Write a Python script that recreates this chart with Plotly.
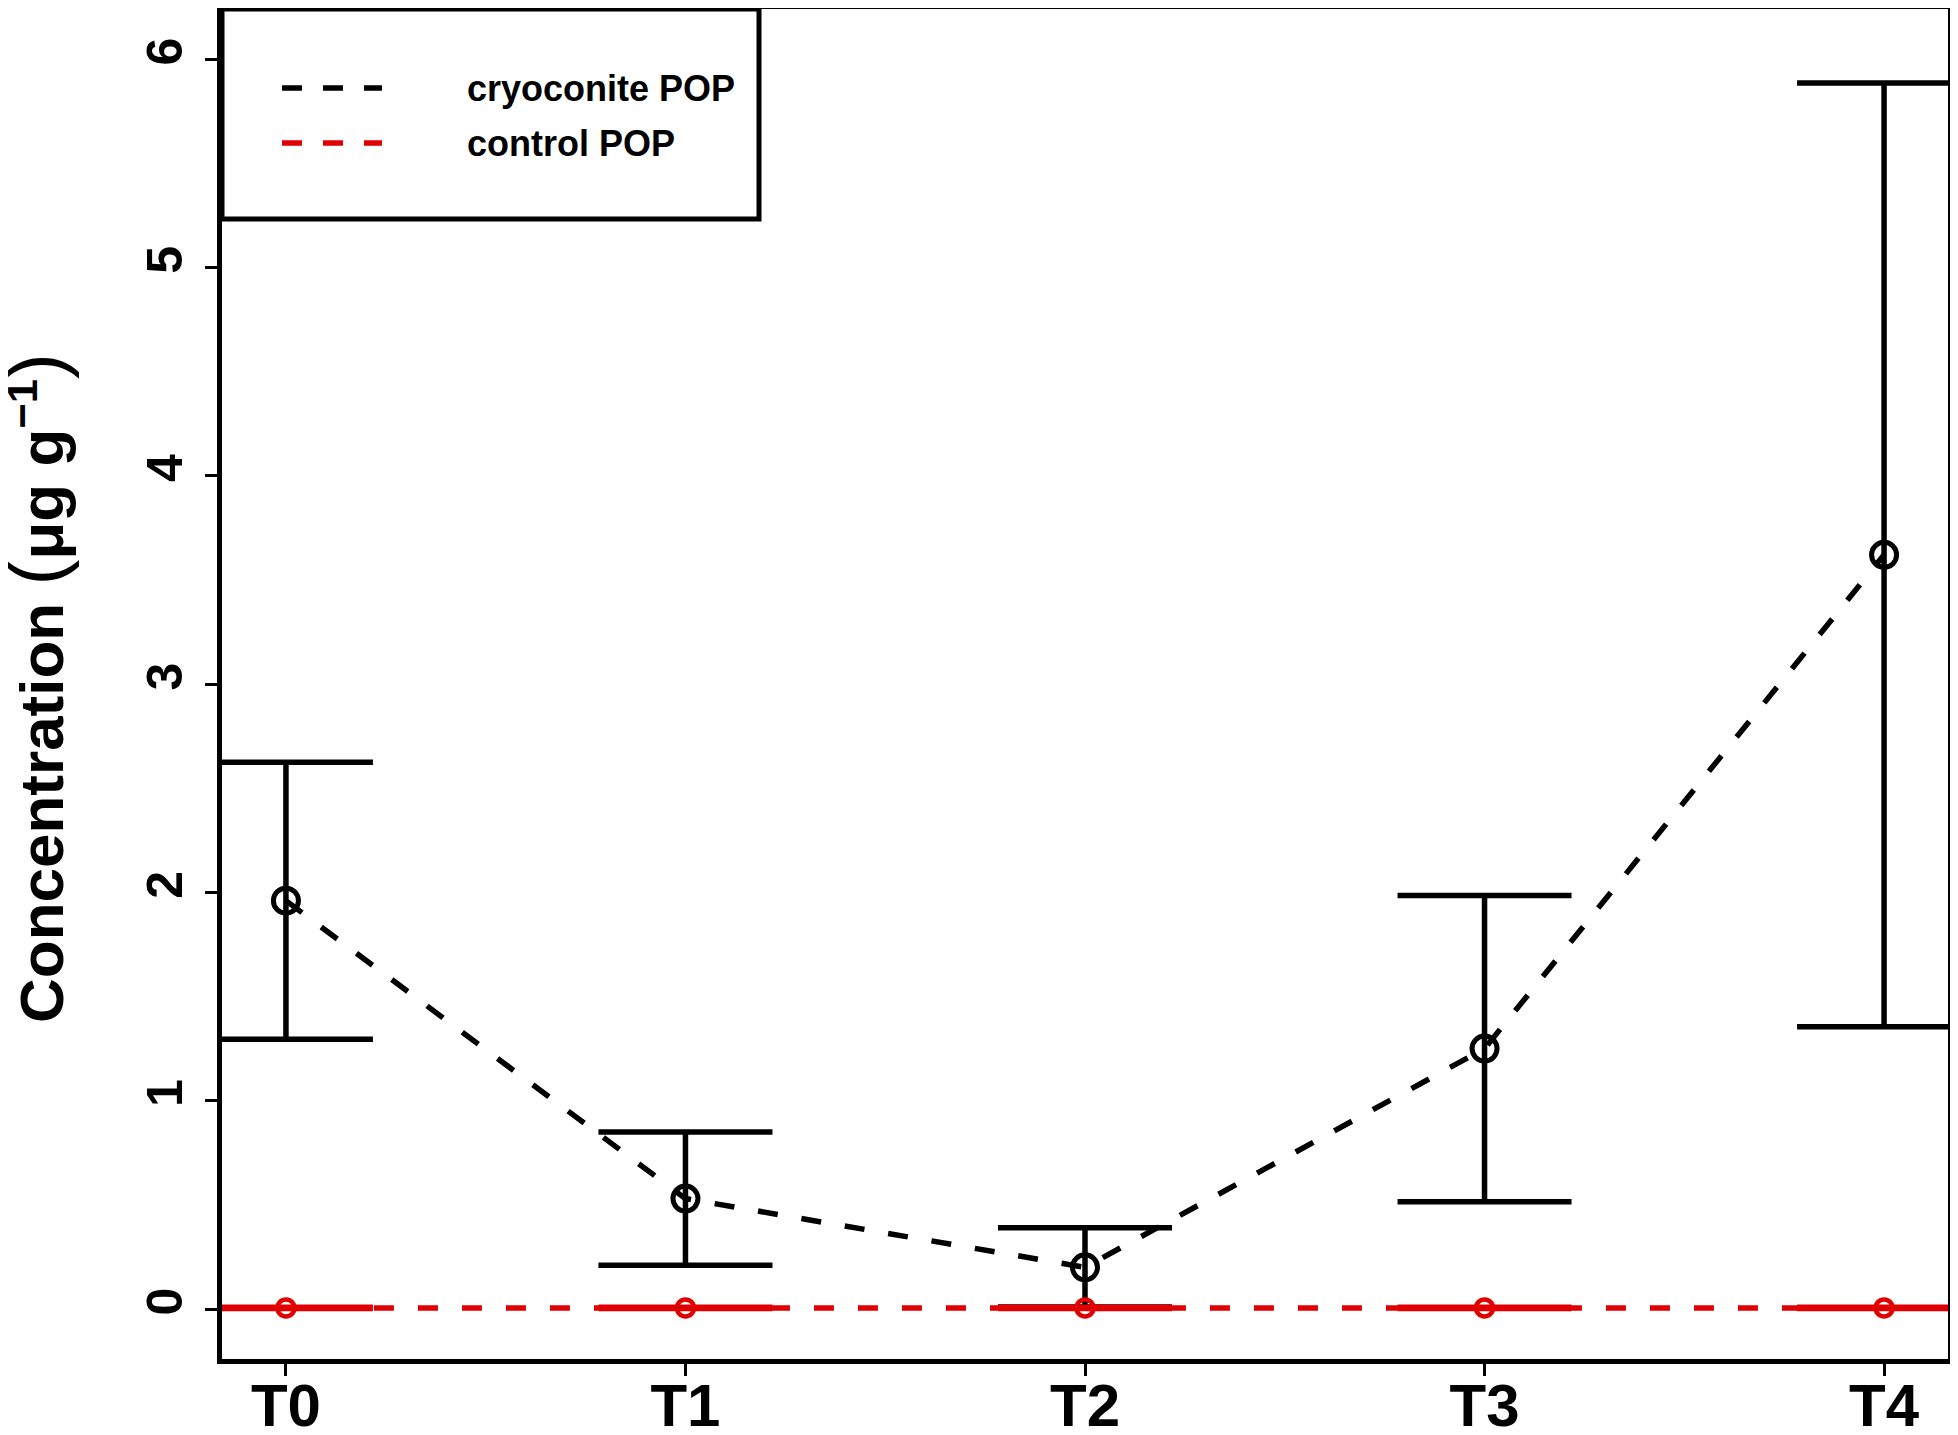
import plotly.graph_objects as go

# sampling times and measured concentrations (ug/g)
times = ["T0", "T1", "T2", "T3", "T4"]
cryo_mean = [1.96, 0.53, 0.20, 1.25, 3.62]
cryo_sd = [0.665, 0.32, 0.19, 0.735, 2.265]
ctrl_mean = [0.005, 0.005, 0.005, 0.005, 0.005]
ctrl_sd = [0.003, 0.003, 0.003, 0.003, 0.003]
yticks = [0, 1, 2, 3, 4, 5, 6]

legend_names = ["cryoconite POP", "control POP"]
RED = "#e00000"
FONT = "Liberation Sans"

# page body has an 8px margin, so shrink the figure by that much
W, H = 1950, 1427
L, R, T, B = 214, 10, 1, 76
pw, ph = W - L - R, H - T - B


def px(x):
    # x in reference-image pixels -> paper coords
    return (x - 8 - L) / pw


def py(y):
    return (H - B - (y - 8)) / ph


fig = go.Figure()

fig.add_trace(go.Scatter(
    x=times, y=cryo_mean, mode="lines+markers", name=legend_names[0],
    line=dict(color="black", width=5.5, dash="20px,24px"),
    marker=dict(symbol="circle-open", size=25, color="black", line=dict(width=5)),
    error_y=dict(type="data", array=cryo_sd, visible=True, color="black",
                 thickness=5.5, width=87),
    showlegend=False,
))

fig.add_trace(go.Scatter(
    x=times, y=ctrl_mean, mode="lines+markers", name=legend_names[1],
    line=dict(color=RED, width=5.5, dash="20px,24px"),
    marker=dict(symbol="circle-open", size=17, color=RED, line=dict(width=4.5)),
    error_y=dict(type="data", array=ctrl_sd, visible=True, color=RED,
                 thickness=5.5, width=87),
    showlegend=False,
))

# hand-made legend box like base R's legend()
shapes = [dict(type="rect", xref="paper", yref="paper",
               x0=0, x1=px(759), y0=py(219), y1=1,
               line=dict(color="black", width=5), fillcolor="white", layer="below")]
annotations = []
for name, col, yy in [(legend_names[0], "black", 88), (legend_names[1], RED, 143)]:
    shapes.append(dict(type="line", xref="paper", yref="paper",
                       x0=px(282), x1=px(382), y0=py(yy), y1=py(yy),
                       line=dict(color=col, width=5.5, dash="20px,21px")))
    annotations.append(dict(text=name, xref="paper", yref="paper",
                            x=px(465), y=py(yy), xanchor="left", yanchor="middle",
                            showarrow=False,
                            font=dict(family=FONT, size=36, color="black", weight="bold")))

annotations.append(dict(
    text="Concentration <span style='font-size:78px;font-weight:normal'>(</span>μg g<sup>−1</sup><span style='font-size:78px;font-weight:normal'>)</span>",
    xref="paper", yref="paper", x=px(36), y=py(688), textangle=-90,
    xanchor="center", yanchor="middle", showarrow=False,
    font=dict(family=FONT, size=62, color="black", weight="bold")))

fig.update_layout(
    width=W, height=H,
    margin=dict(l=L, r=R, t=T, b=B),
    paper_bgcolor="white", plot_bgcolor="white",
    shapes=shapes, annotations=annotations,
    font=dict(family=FONT, color="black"),
)

fig.update_xaxes(
    range=[-0.16, 4.16], showgrid=False, zeroline=False, automargin=False,
    showline=True, mirror=True, linecolor="black", linewidth=5,
    ticks="outside", ticklen=12, tickwidth=2.5, tickcolor="black",
    ticklabelstandoff=-22,
    tickfont=dict(family=FONT, size=60, color="black", weight="bold"),
)
fig.update_yaxes(
    range=[-0.24, 6.24], tickvals=yticks, showgrid=False, zeroline=False,
    automargin=False,
    showline=True, mirror=True, linecolor="black", linewidth=5,
    ticks="outside", ticklen=12, tickwidth=2.5, tickcolor="black",
    tickangle=-90, ticklabelstandoff=3,
    tickfont=dict(family=FONT, size=50, color="black", weight="bold"),
)

fig.write_html("out.html")
